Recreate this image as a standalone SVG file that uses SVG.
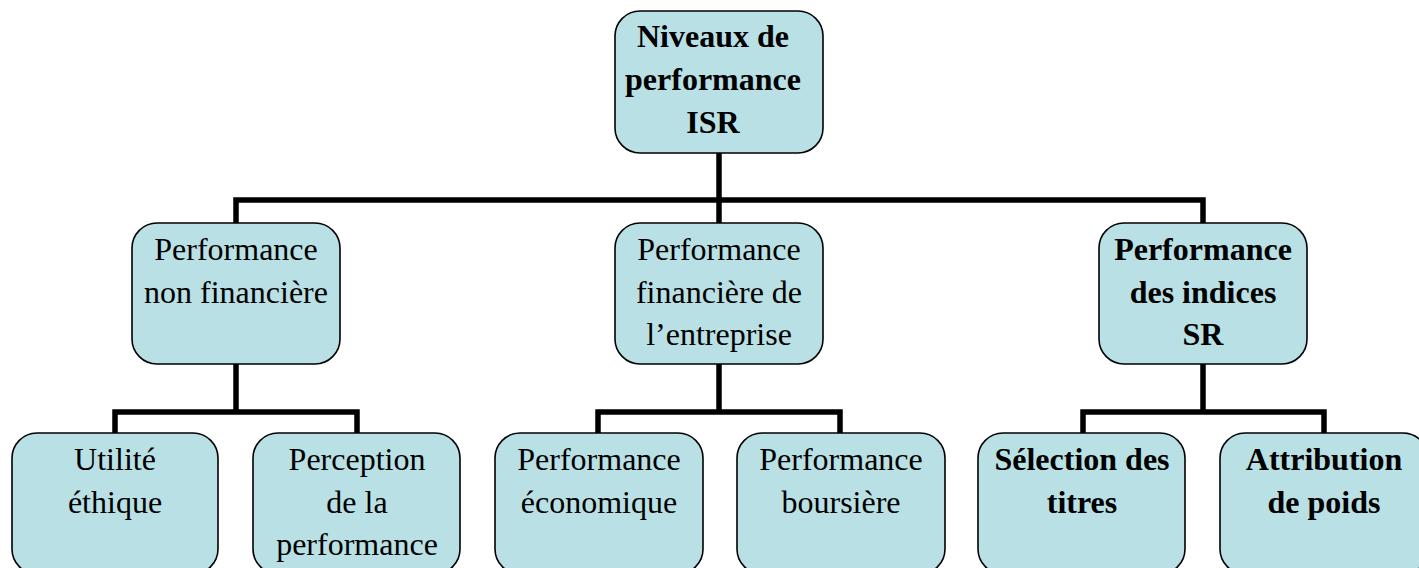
<svg xmlns="http://www.w3.org/2000/svg" width="1419" height="568" viewBox="0 0 1419 568">
<style>
.box{fill:#B9E0E4;stroke:#000;stroke-width:1.6}
.t{font-family:"Liberation Serif","Times New Roman",serif;font-size:32px;fill:#000;text-anchor:middle}
.b{font-weight:bold}
.c{fill:none;stroke:#000;stroke-width:5.5;stroke-linejoin:miter;stroke-linecap:butt}
</style>
<rect width="1419" height="568" fill="#fff"/>
<g id="connectors">
<path class="c" d="M719,153 V223"/>
<path class="c" d="M236,223 V200 H1203 V223"/>
<path class="c" d="M236,364 V412"/>
<path class="c" d="M719,364 V412"/>
<path class="c" d="M1203,364 V412"/>
<path class="c" d="M115,433 V412 H357 V433"/>
<path class="c" d="M598,433 V412 H840 V433"/>
<path class="c" d="M1083,433 V412 H1324 V433"/>
</g>
<g id="root">
<rect class="box" x="615" y="11" width="208" height="142" rx="25"/>
<text class="t b" x="713" y="47">Niveaux de</text>
<text class="t b" x="713" y="90">performance</text>
<text class="t b" x="713" y="133">ISR</text>
</g>
<g id="perf-non-fin">
<rect class="box" x="132" y="223" width="208" height="141" rx="25"/>
<text class="t" x="236" y="260">Performance</text>
<text class="t" x="236" y="303">non financière</text>
</g>
<g id="perf-fin">
<rect class="box" x="615" y="223" width="208" height="141" rx="25"/>
<text class="t" x="719" y="260">Performance</text>
<text class="t" x="719" y="303">financière de</text>
<text class="t" x="719" y="345">l’entreprise</text>
</g>
<g id="perf-indices">
<rect class="box" x="1099" y="223" width="208" height="141" rx="25"/>
<text class="t b" x="1203" y="260">Performance</text>
<text class="t b" x="1203" y="303">des indices</text>
<text class="t b" x="1203" y="345">SR</text>
</g>
<g id="utilite">
<rect class="box" x="12" y="433" width="206" height="141" rx="25"/>
<text class="t" x="115" y="470">Utilité</text>
<text class="t" x="115" y="513">éthique</text>
</g>
<g id="perception">
<rect class="box" x="253" y="433" width="207" height="141" rx="25"/>
<text class="t" x="357" y="470">Perception</text>
<text class="t" x="357" y="513">de la</text>
<text class="t" x="357" y="555">performance</text>
</g>
<g id="perf-eco">
<rect class="box" x="495" y="433" width="208" height="141" rx="25"/>
<text class="t" x="599" y="470">Performance</text>
<text class="t" x="599" y="513">économique</text>
</g>
<g id="perf-bourse">
<rect class="box" x="737" y="433" width="208" height="141" rx="25"/>
<text class="t" x="841" y="470">Performance</text>
<text class="t" x="841" y="513">boursière</text>
</g>
<g id="selection">
<rect class="box" x="978" y="433" width="207" height="141" rx="25"/>
<text class="t b" x="1082" y="470">Sélection des</text>
<text class="t b" x="1082" y="513">titres</text>
</g>
<g id="attribution">
<rect class="box" x="1220" y="433" width="208" height="141" rx="25"/>
<text class="t b" x="1324" y="470">Attribution</text>
<text class="t b" x="1324" y="513">de poids</text>
</g>
</svg>
